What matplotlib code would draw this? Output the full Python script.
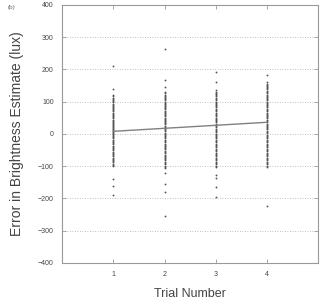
import numpy as np
import matplotlib.pyplot as plt

plt.rcParams['font.family'] = ['Liberation Sans', 'DejaVu Sans']

# error values, per trial
trial1 = [210, 140, 120, 116, 112, 108, 105, 101, 98, 94, 90, 87, 84, 80, 76, 73, 70, 66, 62,
          58, 55, 51, 48, 44, 40, 37, 35, 31, 28, 24, 20, 17, 14, 11, 8, 5, 2, -1,
          -4, -7, -10, -14, -18, -21, -25, -28, -32, -36, -40, -43, -46, -50, -55, -58,
          -62, -66, -70, -74, -78, -81, -85, -88, -92, -96, -100,
          -140, -162, -190]
trial2 = [262, 168, 146, 130, 126, 122, 118, 115, 111, 108, 104, 100, 97, 94, 90, 86, 83, 80,
          76, 72, 68, 64, 61, 58, 54, 50, 46, 42, 39, 36, 33, 30, 26, 22, 18, 15, 11, 8, 4,
          0, -3, -6, -10, -14, -18, -22, -26, -30, -34, -38, -41, -45, -48, -52, -56, -60,
          -64, -68, -71, -75, -78, -82, -86, -90, -94, -98, -102, -105,
          -120, -155, -180, -255]
trial3 = [193, 162, 135, 131, 128, 124, 120, 116, 112, 108, 104, 100, 96, 93, 90, 86, 82, 78,
          74, 70, 66, 62, 58, 54, 50, 47, 44, 40, 36, 32, 28, 24, 20, 16, 12, 8, 5, 1,
          -2, -6, -10, -14, -18, -22, -26, -30, -34, -38, -42, -46, -50, -54, -58, -62,
          -66, -70, -74, -78, -82, -86, -90, -94, -98, -104,
          -128, -137, -165, -196]
trial4 = [184, 160, 156, 152, 148, 145, 141, 138, 134, 130, 126, 122, 118, 115, 111, 108, 104,
          100, 96, 92, 89, 86, 82, 78, 74, 70, 66, 62, 58, 55, 51, 48, 44, 40, 36, 32, 28,
          25, 21, 18, 14, 10, 6, 2, -2, -6, -10, -14, -18, -22, -26, -30, -34, -38, -42,
          -46, -50, -54, -58, -62, -66, -70, -74, -78, -82, -86, -90, -94, -98, -102,
          -225]
trials = [1, 2, 3, 4]
fit_y = [8, 36]  # regression line at trial 1 and trial 4

fig = plt.figure(figsize=(3.22, 3.05), dpi=100)
ax = fig.add_axes([0.193, 0.138, 0.795, 0.846])

for t, vals in zip(trials, [trial1, trial2, trial3, trial4]):
    ax.scatter([t] * len(vals), vals, s=1.8, color='#555555', linewidths=0, zorder=3)

ax.plot([trials[0], trials[-1]], fit_y, color='#808080', lw=1.0, zorder=4)

ax.set_xlim(0, 5)
ax.set_ylim(-400, 400)
ax.set_xticks(trials)
ax.set_yticks(range(-400, 401, 100))
for yv in range(-300, 301, 100):
    ax.axhline(yv, color='#aaaaaa', lw=0.6, ls=(0, (1, 2)), zorder=1)

for sp in ax.spines.values():
    sp.set_color('#999999')
    sp.set_linewidth(0.8)
ax.tick_params(direction='in', length=3, width=0.6, color='#999999',
               labelsize=5, labelcolor='#444444', top=True, right=True, pad=6)

ax.set_ylabel('Error in Brightness Estimate (lux)', fontsize=10, color='#444444', labelpad=10)
ax.set_xlabel('Trial Number', fontsize=9, color='#444444', labelpad=7)
fig.text(0.025, 0.985, '(b)', fontsize=4.5, color='#666666', va='top')

fig.savefig('out.png', dpi=100)
